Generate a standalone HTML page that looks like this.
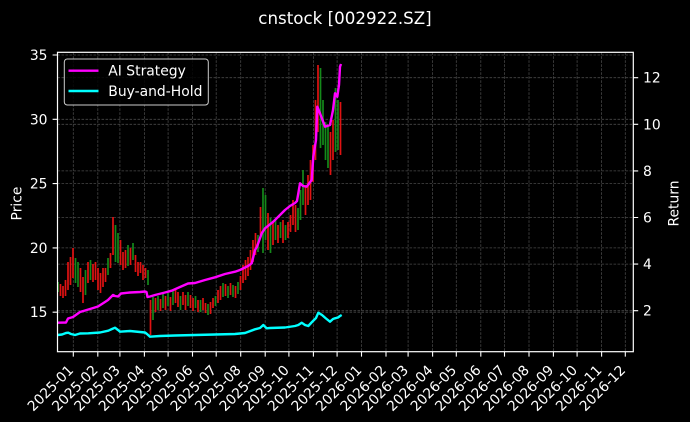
<!DOCTYPE html>
<html><head><meta charset="utf-8"><style>
html,body{margin:0;padding:0;background:#000;}
svg{display:block;}
text{font-family:"DejaVu Sans","Liberation Sans",sans-serif;fill:#fff;}
.t{font-size:13.9px;}
</style></head><body>
<svg width="690" height="422" viewBox="0 0 690 422" xmlns="http://www.w3.org/2000/svg">
<rect x="0" y="0" width="690" height="422" fill="#000"/>
<text x="345" y="24" text-anchor="middle" style="font-size:16.7px">cnstock [002922.SZ]</text>

<!-- grid -->
<g stroke="#474747" stroke-width="0.8" stroke-dasharray="2.6,1.4" fill="none">
<path d="M73.3 52.3V351.7M97.8 52.3V351.7M119.9 52.3V351.7M144.4 52.3V351.7M168.1 52.3V351.7M192.5 52.3V351.7M216.2 52.3V351.7M240.7 52.3V351.7M265.2 52.3V351.7M288.9 52.3V351.7M313.4 52.3V351.7M337.1 52.3V351.7M361.5 52.3V351.7M386 52.3V351.7M408.1 52.3V351.7M432.6 52.3V351.7M456.3 52.3V351.7M480.8 52.3V351.7M504.5 52.3V351.7M529 52.3V351.7M553.4 52.3V351.7M577.1 52.3V351.7M601.6 52.3V351.7M625.3 52.3V351.7"/>
<path d="M57.5 55H633.3M57.5 119.3H633.3M57.5 183.6H633.3M57.5 247.9H633.3M57.5 312.2H633.3"/>
<path d="M57.5 77.7H633.3M57.5 124.3H633.3M57.5 170.9H633.3M57.5 217.5H633.3M57.5 264.1H633.3M57.5 310.7H633.3"/>
</g>

<!-- candles -->
<path fill="none" stroke="#e01212" stroke-width="1.7" d="M60.5 284V296M63 286V298M65.5 280V296M68 262V290M70.5 257V285M73 248V278M80.5 268V292M83 277V303M88 262V283M93 264V282M95.5 262V280M98 268V290M100.5 273V293M103 268V287M105.5 268V282M110.5 253V268M113 217V255M120.5 240V265M123 252V270M125.5 250V268M130.5 248V265M135.5 255V272M138 262V276M140.5 262V273M143 265V280M145.5 268V278M150.5 300V335M155.5 298V312M160.5 299V311M165.5 296V310M170.5 297V311M175.5 288V303M178 292V307M183 292V305M185.5 295V310M190.5 295V308M193 298V311M198 300V312M203 298V310M205.5 303V313M210.5 302V314M213 298V308M218 290V303M220.5 286V300M225.5 284V296M230.5 283V295M235.5 286V298M240.5 276V290M243 265V283M245.5 260V280M248 257V276M250.5 250V270M253 240V262M255.5 233V255M260.5 207V235M268 213V250M273 222V245M278 225V243M283 220V243M288 222V238M290.5 215V232M293 200V225M295.5 205V232M305.5 185V215M308 175V205M310.5 160V200M313 145V182M315.5 100V160M318 65V132M330.5 132V175M333 120V160M340.5 102V155"/>
<path fill="none" stroke="#14891a" stroke-width="1.7" d="M58 282V292M75.5 258V283M78 262V287M85.5 270V295M90.5 260V280M108 258V275M115.5 225V262M118 233V263M128 245V266M133 243V260M148 270V285M153 297V320M158 296V310M163 293V308M168 293V306M173 290V305M180.5 296V310M188 292V306M195.5 296V308M200.5 300V312M208 304V315M215.5 296V306M223 283V297M228 286V298M233 285V297M238 282V294M258 235V252M263 188V253M265.5 195V240M270.5 218V253M275.5 220V240M280.5 222V238M285.5 225V240M298 208V230M300.5 190V220M303 170V205M320.5 68V148M323 100V145M325.5 122V160M328 125V168M335.5 88V152M338 100V150"/>

<!-- AI Strategy -->
<polyline fill="none" stroke="#ff00ff" stroke-width="2.4" stroke-linejoin="round" points="57.5,322.7 66,322.5 68,318.5 73,317 80,312 90,309 98,306.5 105,302 108,300 111,297 113,295 115,296 118,296.5 121,293.5 130,292.5 140,292 145,291.5 146.5,292 147.5,297 150,296.5 155,295 165,292.5 171.7,290.7 180,287 188,283.5 195,283 205,280 215,277.3 225,274 235,271.7 240,270 248,266 251.7,263.3 255,250 257,246.7 261.7,233.3 265,228.3 273.3,221.7 280,215 285,210 290,206 295,203 297,201 300,183.3 303,186 306.7,186.7 311.7,180 313.3,156.7 316,140 317.3,106.7 320,113.3 325,126.7 330,125 333,110 335,93.3 337.3,96.7 339,85 340,66.7 341,64"/>
<!-- Buy and hold -->
<polyline fill="none" stroke="#00ffff" stroke-width="2.4" stroke-linejoin="round" points="57.5,335 62,334.5 66,333 68.3,332.7 71,334 75,335 80,333.5 88.3,333.3 100,332.5 108.3,330.7 112,329 115,327.7 118,330 120,331.7 130,331 140,332 145,332.5 147,334 150,336.7 160,336 175,335.5 195,335 215,334.5 235,334 245,333 255,329.3 260,328 263.3,325 266.7,328.3 270,328 285,327.5 295,326 298.3,325 301.7,322.7 305,325 308.3,326 312,322 316,318 318.3,312.7 322,315 326,318.5 330,321.7 333,319 335,318.3 338,317.5 340,316 341.7,315"/>

<!-- spines -->
<rect x="57.5" y="52.3" width="575.8" height="299.4" fill="none" stroke="#fff" stroke-width="1.2"/>

<!-- ticks -->
<g stroke="#fff" stroke-width="1.1">
<path d="M73.3 351.7V356.6M97.8 351.7V356.6M119.9 351.7V356.6M144.4 351.7V356.6M168.1 351.7V356.6M192.5 351.7V356.6M216.2 351.7V356.6M240.7 351.7V356.6M265.2 351.7V356.6M288.9 351.7V356.6M313.4 351.7V356.6M337.1 351.7V356.6M361.5 351.7V356.6M386 351.7V356.6M408.1 351.7V356.6M432.6 351.7V356.6M456.3 351.7V356.6M480.8 351.7V356.6M504.5 351.7V356.6M529 351.7V356.6M553.4 351.7V356.6M577.1 351.7V356.6M601.6 351.7V356.6M625.3 351.7V356.6"/>
<path d="M57.5 55H52.6M57.5 119.3H52.6M57.5 183.6H52.6M57.5 247.9H52.6M57.5 312.2H52.6"/>
<path d="M633.3 77.7H638.2M633.3 124.3H638.2M633.3 170.9H638.2M633.3 217.5H638.2M633.3 264.1H638.2M633.3 310.7H638.2"/>
</g>

<!-- y tick labels -->
<g class="t" text-anchor="end">
<text x="47.5" y="60">35</text>
<text x="47.5" y="124.3">30</text>
<text x="47.5" y="188.6">25</text>
<text x="47.5" y="252.9">20</text>
<text x="47.5" y="317.2">15</text>
</g>
<g class="t" text-anchor="start">
<text x="643" y="82.7">12</text>
<text x="643" y="129.3">10</text>
<text x="643" y="175.9">8</text>
<text x="643" y="222.5">6</text>
<text x="643" y="269.1">4</text>
<text x="643" y="315.7">2</text>
</g>

<text class="t" transform="translate(21.5,203.5) rotate(-90)" text-anchor="middle">Price</text>
<text class="t" transform="translate(678.5,203.5) rotate(-90)" text-anchor="middle">Return</text>

<!-- x tick labels -->
<g class="t" text-anchor="end">
<text transform="translate(74.3,371) rotate(-45)">2025-01</text>
<text transform="translate(98.8,371) rotate(-45)">2025-02</text>
<text transform="translate(120.9,371) rotate(-45)">2025-03</text>
<text transform="translate(145.4,371) rotate(-45)">2025-04</text>
<text transform="translate(169.1,371) rotate(-45)">2025-05</text>
<text transform="translate(193.5,371) rotate(-45)">2025-06</text>
<text transform="translate(217.2,371) rotate(-45)">2025-07</text>
<text transform="translate(241.7,371) rotate(-45)">2025-08</text>
<text transform="translate(266.2,371) rotate(-45)">2025-09</text>
<text transform="translate(289.9,371) rotate(-45)">2025-10</text>
<text transform="translate(314.4,371) rotate(-45)">2025-11</text>
<text transform="translate(338.1,371) rotate(-45)">2025-12</text>
<text transform="translate(362.5,371) rotate(-45)">2026-01</text>
<text transform="translate(387,371) rotate(-45)">2026-02</text>
<text transform="translate(409.1,371) rotate(-45)">2026-03</text>
<text transform="translate(433.6,371) rotate(-45)">2026-04</text>
<text transform="translate(457.3,371) rotate(-45)">2026-05</text>
<text transform="translate(481.8,371) rotate(-45)">2026-06</text>
<text transform="translate(505.5,371) rotate(-45)">2026-07</text>
<text transform="translate(530,371) rotate(-45)">2026-08</text>
<text transform="translate(554.4,371) rotate(-45)">2026-09</text>
<text transform="translate(578.1,371) rotate(-45)">2026-10</text>
<text transform="translate(602.6,371) rotate(-45)">2026-11</text>
<text transform="translate(626.3,371) rotate(-45)">2026-12</text>
</g>

<!-- legend -->
<rect x="64.3" y="59" width="144" height="46" rx="3" ry="3" fill="#000" fill-opacity="0.85" stroke="#cccccc" stroke-width="1"/>
<line x1="68.5" y1="70.7" x2="98.5" y2="70.7" stroke="#ff00ff" stroke-width="2.4"/>
<line x1="68.5" y1="91" x2="98.5" y2="91" stroke="#00ffff" stroke-width="2.4"/>
<text class="t" x="108.3" y="75.7">AI Strategy</text>
<text class="t" x="108.3" y="96">Buy-and-Hold</text>
</svg>
</body></html>
